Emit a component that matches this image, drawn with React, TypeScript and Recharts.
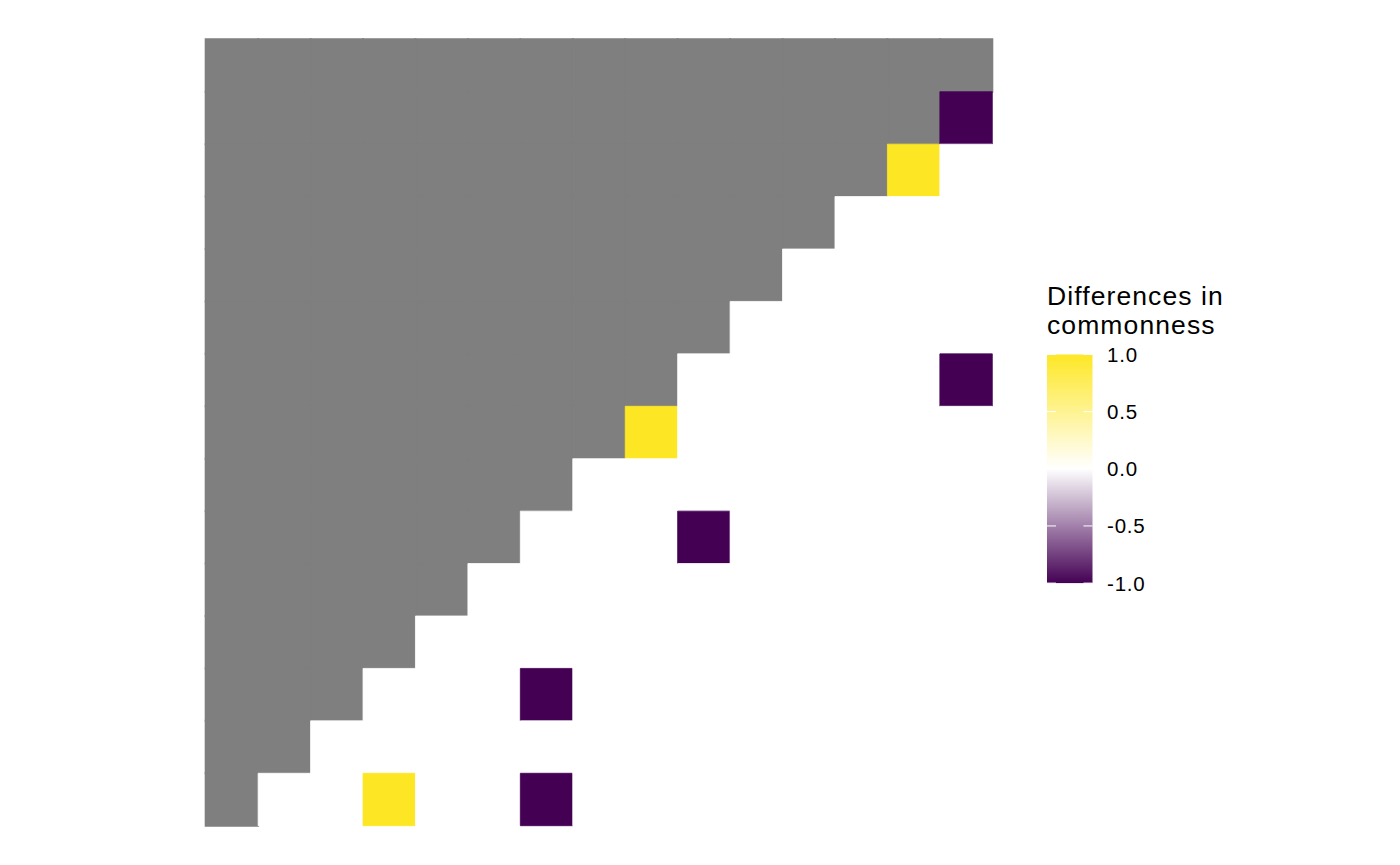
import React from "react";
import { BarChart, Bar, XAxis, YAxis, Cell } from "recharts";

// rows top -> bottom, columns left -> right; null = not shown (grey)
const rowLabels = ["r1", "r2", "r3", "r4", "r5", "r6", "r7", "r8", "r9", "r10", "r11", "r12", "r13", "r14", "r15"];
const colKeys = ["c1", "c2", "c3", "c4", "c5", "c6", "c7", "c8", "c9", "c10", "c11", "c12", "c13", "c14", "c15"];

const N = null;
const diffRows: (number | null)[][] = [
  [N, N, N, N, N, N, N, N, N, N, N, N, N, N, N],
  [N, N, N, N, N, N, N, N, N, N, N, N, N, N, -1],
  [N, N, N, N, N, N, N, N, N, N, N, N, N, 1, 0],
  [N, N, N, N, N, N, N, N, N, N, N, N, 0, 0, 0],
  [N, N, N, N, N, N, N, N, N, N, N, 0, 0, 0, 0],
  [N, N, N, N, N, N, N, N, N, N, 0, 0, 0, 0, 0],
  [N, N, N, N, N, N, N, N, N, 0, 0, 0, 0, 0, -1],
  [N, N, N, N, N, N, N, N, 1, 0, 0, 0, 0, 0, 0],
  [N, N, N, N, N, N, N, 0, 0, 0, 0, 0, 0, 0, 0],
  [N, N, N, N, N, N, 0, 0, 0, -1, 0, 0, 0, 0, 0],
  [N, N, N, N, N, 0, 0, 0, 0, 0, 0, 0, 0, 0, 0],
  [N, N, N, N, 0, 0, 0, 0, 0, 0, 0, 0, 0, 0, 0],
  [N, N, N, 0, 0, 0, -1, 0, 0, 0, 0, 0, 0, 0, 0],
  [N, N, 0, 0, 0, 0, 0, 0, 0, 0, 0, 0, 0, 0, 0],
  [N, 0, 0, 1, 0, 0, -1, 0, 0, 0, 0, 0, 0, 0, 0],
];

const legendTicks = [1, 0.5, 0, -0.5, -1];
const legendLabels = ["1.0", "0.5", "0.0", "-0.5", "-1.0"];

const LOW = [0x44, 0x01, 0x54];
const HIGH = [0xfd, 0xe7, 0x25];
const NA_GREY = "#7f7f7f";

const mix = (a: number[], t: number) => {
  const c = a.map((v) => Math.round(255 + (v - 255) * t));
  return `rgb(${c[0]},${c[1]},${c[2]})`;
};
const fillFor = (v: number | null) => {
  if (v === null) return NA_GREY;
  if (v >= 0) return mix(HIGH, Math.min(v, 1));
  return mix(LOW, Math.min(-v, 1));
};

// every cell is one unit wide: each row is a stack of 15 unit segments
const chartData = rowLabels.map((row) => {
  const o: Record<string, any> = { row };
  colKeys.forEach((k) => (o[k] = 1));
  return o;
});

const FONT = '"Liberation Sans", Arial, Helvetica, sans-serif';

const Legend = () => {
  const x = 1047;
  const w = 45.5;
  const top = 354.5;
  const h = 228.6;
  const yOf = (v: number) => top + ((1 - v) / 2) * h;
  // offsets must increase, so walk from the top (1) down to -1
  const stops = [1, 0.75, 0.5, 0.25, 0, -0.25, -0.5, -0.75, -1];
  return (
    <svg
      width={1400}
      height={865}
      style={{ position: "absolute", left: 0, top: 0, pointerEvents: "none" }}
    >
      <defs>
        <linearGradient id="diffGrad" x1="0" y1="0" x2="0" y2="1">
          {stops.map((s) => (
            <stop key={s} offset={(1 - s) / 2} stopColor={fillFor(s)} />
          ))}
        </linearGradient>
      </defs>
      <text x={x} y={304.5} fontFamily={FONT} fontSize={26.5} letterSpacing={1.1} fill="#000">
        Differences in
      </text>
      <text x={x} y={333.5} fontFamily={FONT} fontSize={26.5} letterSpacing={1.1} fill="#000">
        commonness
      </text>
      <rect x={x} y={top} width={w} height={h} fill="url(#diffGrad)" />
      {legendTicks.map((t, i) => (
        <g key={t}>
          <line x1={x} x2={x + 9} y1={yOf(t)} y2={yOf(t)} stroke="#fff" strokeWidth={1} />
          <line x1={x + w - 9} x2={x + w} y1={yOf(t)} y2={yOf(t)} stroke="#fff" strokeWidth={1} />
          <text
            x={1107}
            y={yOf(t) + 7.5}
            fontFamily={FONT}
            fontSize={20.5}
            letterSpacing={0.8}
            fill="#000"
          >
            {legendLabels[i]}
          </text>
        </g>
      ))}
    </svg>
  );
};

export default function App() {
  return (
    <div style={{ position: "absolute", left: 0, top: 0, width: 1400, height: 865, background: "#fff" }}>
      <BarChart
        width={1400}
        height={865}
        data={chartData}
        layout="vertical"
        barCategoryGap={0}
        barSize={786.4 / 15}
        margin={{ top: 39.3, right: 407.7, bottom: 39.3, left: 205.7 }}
      >
        <XAxis type="number" domain={[0, 15]} hide />
        <YAxis type="category" dataKey="row" hide />
        {colKeys.map((k, ci) => (
          <Bar key={k} dataKey={k} stackId="grid" isAnimationActive={false}>
            {diffRows.map((r, ri) => (
              <Cell
                key={ri}
                fill={fillFor(r[ci])}
                stroke={fillFor(r[ci])}
                strokeWidth={r[ci] === null ? 2 : 0.8}
              />
            ))}
          </Bar>
        ))}
      </BarChart>
      <Legend />
    </div>
  );
}
